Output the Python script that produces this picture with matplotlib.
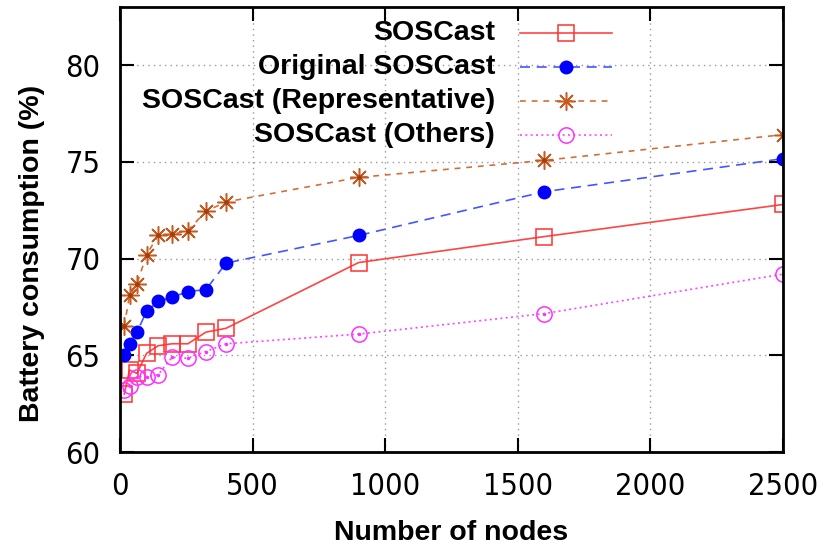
import matplotlib.pyplot as plt
from matplotlib.lines import Line2D

nodes = [16, 36, 64, 100, 144, 196, 256, 324, 400, 900, 1600, 2500]
soscast = [63.0, 64.24, 64.07, 65.1, 65.5, 65.6, 65.6, 66.2, 66.4, 69.8, 71.14, 72.8]
original = [65.04, 65.6, 66.2, 67.27, 67.8, 68.0, 68.3, 68.4, 69.77, 71.2, 73.46, 75.17]
represent = [66.5, 68.1, 68.7, 70.2, 71.2, 71.25, 71.45, 72.45, 72.93, 74.2, 75.08, 76.41]
others = [63.2, 63.4, 63.9, 63.9, 64.0, 64.9, 64.85, 65.2, 65.6, 66.1, 67.16, 69.2]

labels = ["SOSCast", "Original SOSCast", "SOSCast (Representative)", "SOSCast (Others)"]
xticks = [0, 500, 1000, 1500, 2000, 2500]
yticks = [60, 65, 70, 75, 80]

tick_font = {"family": "DejaVu Sans", "stretch": "condensed", "size": 22}
bold_font = {"family": "Liberation Sans", "weight": "bold", "size": 20.5}

fig = plt.figure(figsize=(8.23, 5.5), dpi=100)
ax = fig.add_axes([0.1458, 0.178, 0.8056, 0.809])

styles = [
    dict(color="#ff4444", ls="-", marker="s", ms=11, mfc="none", mec="#ff3030", mew=1.1),
    dict(color="#4455ff", ls=(0, (6, 4)), marker="o", ms=9, mfc="#0000ff", mec="#0000ff"),
    dict(color="#d07038", ls=(0, (3.5, 3.5)), marker=(8, 2, 0), ms=13, mec="#c85a20", mew=1.1),
    dict(color="#ff44ff", ls=(0, (1.2, 2)), marker="o", ms=11, mfc="none", mec="#ff30ff", mew=1.1),
]
series = [soscast, original, represent, others]

for ys, st in zip(series, styles):
    ax.plot(nodes, ys, lw=1.2, **st)
# centre dots of the gnuplot points
ax.plot(nodes, represent, ls="none", marker="o", ms=2.5, color="#a04010")
ax.plot(nodes, others, ls="none", marker="o", ms=1.5, color="#ff30ff")

ax.set_xlim(0, 2500)
ax.set_ylim(60, 83)
ax.set_xticks(xticks)
ax.set_yticks(yticks)
ax.set_xticklabels([str(v) for v in xticks], fontdict=tick_font)
ax.set_yticklabels([str(v) for v in yticks], fontdict=tick_font)
ax.tick_params(direction="in", length=10, width=1.5, top=True, right=True, pad=14)
ax.grid(True, ls=(0, (1, 3)), color="#999999", lw=1.0)
for sp in ax.spines.values():
    sp.set_linewidth(2)

ax.set_xlabel("Number of nodes", fontdict=bold_font, labelpad=14)
ax.set_ylabel("Battery consumption (%)", fontdict=bold_font)
ax.yaxis.set_label_coords(-0.113, 0.447)

# gnuplot-style key: text right aligned, sample to the right
key_y = [0.9416, 0.865, 0.789, 0.712]
for lab, st, ky in zip(labels, styles, key_y):
    ax.text(0.5656, ky, lab, transform=ax.transAxes, ha="right", va="center", **bold_font)
    ax.add_line(Line2D([0.603, 0.742], [ky, ky], transform=ax.transAxes, lw=1.2,
                       **{k: v for k, v in st.items() if k not in ("marker", "ms", "mfc", "mec", "mew")}))
    ax.add_line(Line2D([0.673], [ky], transform=ax.transAxes, lw=0, marker=st["marker"],
                       ms=st["ms"], mfc=st.get("mfc", st["color"]), mec=st["mec"], mew=st.get("mew", 1)))

fig.savefig("out.png", dpi=100)
